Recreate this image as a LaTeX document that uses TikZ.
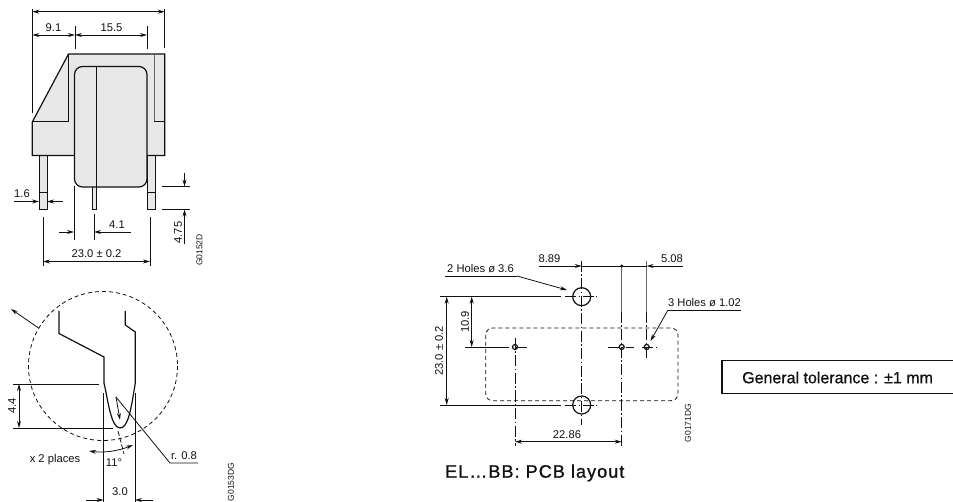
\documentclass[tikz,border=0pt]{standalone}
\usepackage{fontspec}
\setmainfont{Liberation Sans}
\newfontfamily\medfont[FakeBold=1.2,LetterSpace=6]{Liberation Sans}
\newfontfamily\medfontb[FakeBold=0.9]{Liberation Sans}
\usetikzlibrary{arrows.meta}
\definecolor{bodyfill}{HTML}{E8E8E8}
\definecolor{ink}{HTML}{111111}
\tikzset{
 dimline/.style={draw=ink,line width=0.8pt},
 dimarrow/.style={dimline,{Stealth[length=7pt,width=4pt]}-{Stealth[length=7pt,width=4pt]}},
 onearrow/.style={dimline,-{Stealth[length=7pt,width=4pt]}},
 outline/.style={draw=ink,line width=1.2pt,line join=miter},
 thinout/.style={draw=ink,line width=1pt},
 dashrect/.style={draw=ink,line width=0.8pt,dash pattern=on 4pt off 3pt},
 centerl/.style={draw=ink,line width=0.8pt,dash pattern=on 11pt off 2.5pt on 1.5pt off 2.5pt},
 label/.style={font=\fontsize{11.2}{11.2}\selectfont,text=ink,inner sep=0pt},
 code/.style={font=\fontsize{8.5}{8.5}\selectfont,text=ink,inner sep=0pt,rotate=90},
 greyline/.style={draw=black!60,line width=1.2pt}
}
\begin{document}
\begin{tikzpicture}[x=1pt,y=-1pt]
\useasboundingbox (0,0) rectangle (953,502);
% --- side view ---
\draw[dimline] (32.3,9) -- (32.3,113);
\draw[dimline] (164.7,9) -- (164.7,48);
\draw[dimarrow] (32.3,11.7) -- (164.7,11.7);
\draw[dimline] (75,26) -- (75,49);
\draw[dimline] (147,26) -- (147,49);
\draw[dimarrow] (32.3,35) -- (75,35);
\draw[dimarrow] (75,35) -- (147,35);
\node[label] (a91) at (53.5,28) {9.1};
\node[label] (a155) at (111.5,28) {15.5};
% pins
\draw[thinout,fill=bodyfill] (39,155) rectangle (47,209.5);
\draw[thinout,fill=bodyfill] (147.5,155) rectangle (155.5,209.5);
\draw[thinout,fill=bodyfill] (92.5,186) rectangle (96,209.5);
\draw[dimline] (39,192) -- (47,192) (147.5,192) -- (155.5,192);
% body
\draw[outline,fill=bodyfill] (68.5,54) -- (164.7,54) -- (164.7,155.5) -- (32.3,155.5) -- (32.3,122) -- cycle;
\draw[thinout] (32.3,122) -- (68.5,122) -- (68.5,54);
\draw[draw=black!60,line width=1pt] (154,54) -- (154,122);
\draw[thinout] (154,122) -- (164.7,122);
\draw[outline,fill=bodyfill,rounded corners=8pt] (74.5,66.5) rectangle (147,187);
\draw[dimline] (96,67) -- (96,187);
% 1.6
\draw[dimline] (14,201.5) -- (30,201.5);
\draw[onearrow] (30,201.5) -- (39,201.5);
\draw[onearrow] (63,201.5) -- (47,201.5);
\node[label] (a16) at (22,194) {1.6};
% 4.75
\draw[dimline] (162,186.5) -- (190,186.5);
\draw[dimline] (162,209.5) -- (190,209.5);
\draw[onearrow] (184.5,173) -- (184.5,186.5);
\draw[onearrow] (184.5,244) -- (184.5,209.5);
\node[label,rotate=90] (a475) at (178,232.5) {4.75};
\node[code] (g1) at (199.5,250) {G0152D};
% 4.1
\draw[dimline] (74,186) -- (74,240);
\draw[dimline] (94,214) -- (94,240);
\draw[onearrow] (59,232) -- (74,232);
\draw[onearrow] (131,232) -- (94,232);
\node[label] (a41) at (117,225) {4.1};
% 23.0
\draw[dimline] (43,217) -- (43,266);
\draw[dimline] (150,217) -- (150,266);
\draw[dimarrow] (43,261.5) -- (150,261.5);
\node[label] (a230) at (96.5,254) {23.0 ± 0.2};
% --- detail ---
\draw[dashrect] (103,366) circle (74.5);
\draw[onearrow] (38.5,328) -- (11,309);
\draw[outline] (59,311) -- (59,333.5) -- (104,357) -- (104,383)
  .. controls (108,400) and (111,428) .. (120,428)
  .. controls (128,428) and (131,410) .. (135.3,383) -- (135.3,332) -- (125.3,325) -- (125.3,311);
% 4.4
\draw[dimline] (13,384) -- (99,384);
\draw[dimline] (13,428) -- (113,428);
\draw[dimarrow] (19,384) -- (19,428);
\node[label,rotate=90] (a44) at (12,406) {4.4};
% 3.0
\draw[dimline] (103.5,393) -- (103.5,502);
\draw[dimline] (135,393) -- (135,502);
\draw[onearrow] (86,500) -- (103.5,500);
\draw[onearrow] (153,500) -- (135,500);
\node[label] (a30) at (120,492) {3.0};
% 11 deg
\draw[dimline,dash pattern=on 5pt off 2pt] (118,431) -- (124,454);
\draw[dimline,{Stealth[length=7pt,width=4pt]}-{Stealth[length=7pt,width=4pt]}] (89,451) .. controls (104,453) and (118,451) .. (133,445);
\node[label] (a11) at (114,463) {11°};
\node[label] (a2p) at (55,460) {x 2 places};
% r 0.8
\draw[dimline] (116,397) -- (170,463) -- (198,463);
\draw[onearrow] (116,397) -- (120,420);
\node[label] (ar8) at (184,456) {r. 0.8};
\node[code] (g2) at (231,482) {G0153DG};
% --- PCB ---
\draw[dashrect,rounded corners=7pt] (485.7,328) rectangle (678,400.7);
\draw[outline] (581.7,296.7) circle (9);
\draw[outline] (581.7,405) circle (9);
\draw[outline] (515,347) circle (2.5);
\draw[outline] (621.7,347) circle (2.5);
\draw[outline] (646.7,347) circle (2.5);
% vertical centre lines
\draw[centerl] (581.7,261) -- (581.7,425);
\draw[greyline] (621.7,266) -- (621.7,312);
\draw[centerl] (621.7,312) -- (621.7,446);
\draw[greyline] (646.7,261) -- (646.7,312);
\draw[centerl] (646.7,312) -- (646.7,358);
\draw[centerl] (515,338) -- (515,446);
% horizontal centre lines
\draw[dimline] (440,296.7) -- (561,296.7);
\draw[centerl] (565,296.7) -- (597,296.7);
\draw[dimline] (440,405) -- (561,405);
\draw[centerl] (565,405) -- (597,405);
\draw[dimline] (465,347) -- (498,347);
\draw[centerl] (498,347) -- (527,347);
\draw[centerl] (608,347) -- (634,347);
\draw[centerl] (642,347) -- (657,347);
% top dims
\draw[onearrow] (539,266) -- (581.7,266);
\draw[dimline] (581.7,266) -- (646.7,266);
\draw[onearrow] (682.7,266) -- (646.7,266);
\fill[ink] (621.7,266) circle (1.6);
\node[label] (b889) at (549.5,259) {8.89};
\node[label] (b508) at (672,259) {5.08};
% left dims
\draw[dimarrow] (471.7,296.7) -- (471.7,347);
\draw[dimarrow] (446.7,296.7) -- (446.7,405);
\node[label,rotate=90] (b109) at (465,322) {10.9};
\node[label,rotate=90] (b230) at (439,351) {23.0 ± 0.2};
% bottom dim
\draw[dimarrow] (515,441.7) -- (621.7,441.7);
\node[label] (b2286) at (567,435) {22.86};
% leaders
\draw[dimline] (445,276) -- (517,276);
\draw[onearrow] (517,276) -- (567,290);
\node[label] (b2h) at (480.5,269) {2 Holes ø 3.6};
\draw[dimline] (668,310) -- (741,310);
\draw[onearrow] (668,310) -- (650.5,341);
\node[label] (b3h) at (704.5,303) {3 Holes ø 1.02};
\node[code] (g3) at (688,423) {G0171DG};
\node[font=\medfont\fontsize{18}{18}\selectfont,text=ink,inner sep=0pt,anchor=west] (title) at (445,473) {EL…BB: PCB layout};
% tolerance box
\draw[draw=ink,line width=1.2pt] (953,360.7) -- (722,360.7) -- (722,393.3) -- (953,393.3);
\node[font=\medfontb\fontsize{16}{16}\selectfont,text=ink,inner sep=0pt,anchor=west] (tol) at (742,377.5) {General tolerance : ±1 mm};
\end{tikzpicture}
\end{document}
